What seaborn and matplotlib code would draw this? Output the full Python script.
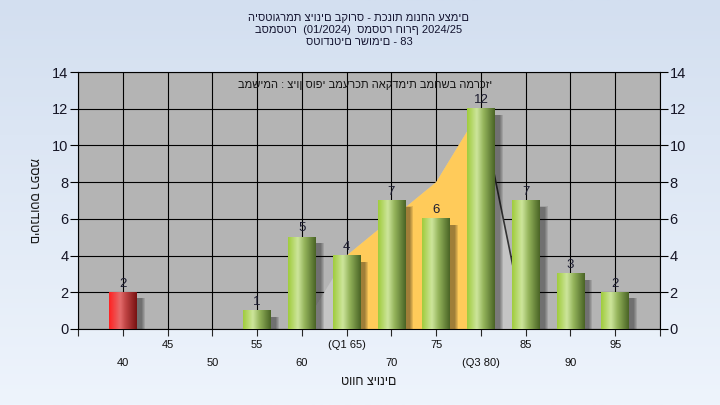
import numpy as np
import pandas as pd
import matplotlib
matplotlib.use('Agg')
import matplotlib.pyplot as plt
import seaborn as sns
from matplotlib.colors import LinearSegmentedColormap
from matplotlib.patches import Rectangle

# histogram data
grades = ['40', '45', '50', '55', '60', '65', '70', '75', '80', '85', '90', '95']
grade_labels = ['40', '45', '50', '55', '60', '(Q1 65)', '70', '75', '(Q3 80)', '85', '90', '95']
counts = [2, 0, 0, 1, 5, 4, 7, 6, 12, 7, 3, 2]
fail_grades = ['40']

# distribution outline behind the bars (Q1..Q3 part is yellow)
curve_grades = ['60', '65', '75', '80', '85']
curve_counts = [0, 4, 8, 12, 0]
q1_grade = '65'
q3_grade = '80'

title_lines = [
    'היסטוגרמת ציונים בקורס - תכנות מונחה עצמים',
    'בסמסטר  (01/2024)  סמסטר חורף 2024/25',
    'סטודנטים רשומים - 83',
]
note_text = 'במשימה : ציון סופי במערכת האקדמית במחשב המרכזי'
x_title = 'טווח ציונים'
y_title = 'מספר סטודנטים'

sns.set_theme(style='white')
plt.rcParams['font.family'] = ['Liberation Sans', 'DejaVu Sans']

fig = plt.figure(figsize=(7.2, 4.05), dpi=100)

# background gradient
bg = fig.add_axes([0, 0, 1, 1], zorder=-10)
bg_cmap = LinearSegmentedColormap.from_list('bg', ['#d3dff0', '#eef4fc'])
bg.imshow(np.linspace(0, 1, 256).reshape(-1, 1), aspect='auto', cmap=bg_cmap,
          extent=(0, 1, 0, 1), origin='upper')
bg.axis('off')

ax = fig.add_axes([78 / 720, 76 / 405, 582 / 720, 257 / 405])
ax.set_facecolor('#b4b4b4')

df = pd.DataFrame({'grade': grades, 'count': counts})
sns.barplot(data=df, x='grade', y='count', order=grades, width=0.62,
            color='#9acd32', ax=ax, zorder=3)
bars = ax.containers[0]

ax.set_xlim(-1, 12)
ax.set_ylim(0, 14)
px_x = 13 / 582
px_y = 14 / 257

pos = {g: i for i, g in enumerate(grades)}
cx = [pos[g] for g in curve_grades]

# light gray outline area
ax.fill(cx + [cx[0]], curve_counts + [0], color='#c5c5c5', lw=0, zorder=1.5)
# yellow inter-quartile area
i1, i3 = curve_grades.index(q1_grade), curve_grades.index(q3_grade)
yx = [pos[q1_grade]] + cx[i1:i3 + 1] + [pos[q3_grade]]
yy = [0] + curve_counts[i1:i3 + 1] + [0]
ax.fill(yx, yy, color='#ffcb5a', lw=0, zorder=1.6)
ax.plot(cx[i3:i3 + 2], curve_counts[i3:i3 + 2], color='#333333', lw=1.2, zorder=1.7)

green_cmap = LinearSegmentedColormap.from_list(
    'g', [(0, '#a0cc3c'), (0.35, '#cde59c'), (0.6, '#93b35a'), (1, '#4a6426')])
red_cmap = LinearSegmentedColormap.from_list(
    'r', [(0, '#ff2222'), (0.4, '#e46c6c'), (0.6, '#c04444'), (1, '#781212')])
ramp = np.linspace(0, 1, 64).reshape(1, -1)

for bar, g, c in zip(bars, grades, counts):
    bar.set_facecolor('none')
    bar.set_edgecolor('none')
    if c == 0:
        continue
    x, w, h = bar.get_x(), bar.get_width(), bar.get_height()
    # soft drop shadow
    for k in range(4):
        ax.add_patch(Rectangle((x + (5 - k) * px_x, -4 * px_y - k * px_y),
                               w + 2 * k * px_x, h - 2 * px_y + k * px_y,
                               color='black', alpha=0.11, lw=0, zorder=2.5))
    cmap = red_cmap if g in fail_grades else green_cmap
    ax.imshow(ramp, cmap=cmap, extent=(x, x + w, 0, h), aspect='auto',
              interpolation='bicubic', zorder=3)

ax.bar_label(bars, labels=[str(c) if c else '' for c in counts], padding=2,
             fontsize=9.5, color='#1c1c30', zorder=5)

ax.set_xlim(-1, 12)
ax.set_ylim(0, 14)
ax.set_yticks(range(0, 15, 2))
ax.set_xticks(range(-1, 13))
tick_text = [''] + ['\n' + lab if i % 2 == 0 else lab for i, lab in enumerate(grade_labels)] + ['']
ax.set_xticklabels(tick_text, fontsize=8, color='#101010')
for t in ax.get_xticklabels():
    t.set_linespacing(1.95)

ax.grid(True, color='black', lw=0.8)
ax.set_axisbelow(True)
for sp in ax.spines.values():
    sp.set_color('black')
    sp.set_linewidth(0.8)
ax.tick_params(axis='y', left=True, right=True, labelright=True, length=6,
               width=0.8, labelsize=10.5, color='black', labelcolor='#151525', pad=1)
ax.tick_params(axis='x', bottom=True, length=5, width=0.8, pad=3)

ax.set_xlabel(x_title, fontsize=9, color='#151515')
ax.xaxis.set_label_coords(0.5, (329 - 382) / 257)
ax.xaxis.label.set_va('center')
ax.set_ylabel(y_title, fontsize=9, rotation=270, color='#151515')
ax.yaxis.set_label_coords((33 - 78) / 582, 0.5)
ax.yaxis.label.set_va('center')
ax.yaxis.label.set_ha('center')

for k, line in enumerate(title_lines):
    fig.text(359 / 720, 1 - (18 + 12 * k) / 405, line, fontsize=8,
             ha='center', va='center', color='#141430')

fig.text(365 / 720, 1 - 85 / 405, note_text, fontsize=8, ha='center',
         va='center', color='#141414')

fig.savefig('out.png', dpi=100)
